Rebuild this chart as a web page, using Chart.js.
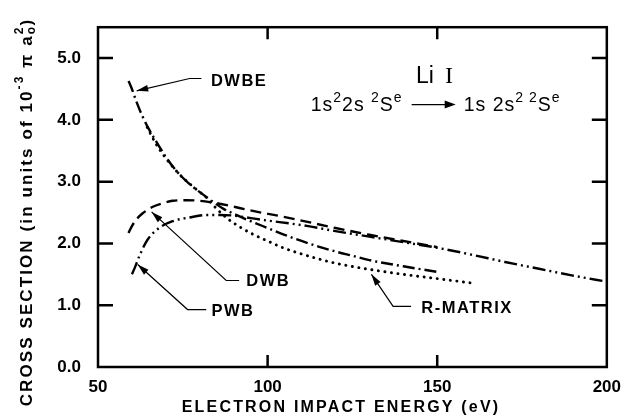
<!DOCTYPE html>
<html>
<head>
<meta charset="utf-8">
<script src="https://cdn.jsdelivr.net/npm/chart.js@4.4.1/dist/chart.umd.min.js"></script>
<style>
  html, body { margin: 0; padding: 0; background: #fff; }
  #wrap { width: 631px; height: 416px; position: relative; }
</style>
</head>
<body>
<div id="wrap"><canvas id="cs"></canvas></div>
<script>
// energia (eV) e seção de choque (10^-3 pi a0^2)
const dwbeE = [59, 60, 61.5, 63, 65, 67.5, 70, 73, 77, 81, 84, 87, 90, 95, 100, 105, 110, 115, 120, 125, 130, 140, 150];
const dwbeQ = [4.63, 4.50, 4.27, 4.07, 3.85, 3.62, 3.40, 3.18, 2.96, 2.79, 2.67, 2.56, 2.48, 2.36, 2.25, 2.14, 2.04, 1.95, 1.87, 1.80, 1.73, 1.63, 1.54];

const dwbE = [59, 60, 61.5, 63, 66, 69, 72, 76, 80, 84, 88, 92, 97, 103, 110, 120, 130, 140, 150];
const dwbQ = [2.17, 2.28, 2.40, 2.48, 2.59, 2.65, 2.69, 2.70, 2.69, 2.66, 2.62, 2.57, 2.51, 2.45, 2.37, 2.25, 2.14, 2.04, 1.94];

const pwbE = [60, 60.8, 62.3, 64.6, 68, 72, 77, 82, 86, 90, 95, 100, 107, 112, 120, 130, 140, 150, 160, 170, 180, 190, 200];
const pwbQ = [1.50, 1.60, 1.81, 2.06, 2.25, 2.36, 2.42, 2.46, 2.46, 2.45, 2.41, 2.37, 2.32, 2.28, 2.20, 2.11, 2.02, 1.93, 1.82, 1.70, 1.59, 1.48, 1.38];

const rmatE = [64.5, 67, 70, 74, 78, 82, 85, 88, 92, 96, 100, 105, 110, 115, 120, 130, 140, 150, 160];
const rmatQ = [3.88, 3.62, 3.38, 3.12, 2.92, 2.74, 2.56, 2.41, 2.26, 2.14, 2.04, 1.92, 1.83, 1.75, 1.68, 1.58, 1.50, 1.43, 1.36];

const xTicks = [50, 100, 150, 200];
const yTicks = [0, 1, 2, 3, 4, 5];

const FONT = '"Liberation Sans", Arial, sans-serif';

function pares(xs, ys) { return xs.map((v, i) => ({ x: v, y: ys[i] })); }

function serie(label, xs, ys, dash, cap, largura) {
    return {
        label: label,
        data: pares(xs, ys),
        borderColor: '#000',
        borderWidth: largura || 2.4,
        borderDash: dash,
        borderCapStyle: cap || 'butt',
        pointRadius: 0,
        fill: false,
        cubicInterpolationMode: 'monotone'
    };
}

// texto com sobrescrito/subscrito: [texto, tipo, naoAvanca]  tipo 0 normal, 1 sup, -1 sub
function rico(ctx, x, y, segs, size, weight, spacing, align) {
    const fonte = k => `${weight} ${k ? Math.round(size * 0.72) : size}px ${FONT}`;
    ctx.letterSpacing = spacing + 'px';
    let w = 0;
    segs.forEach(([t, k, na]) => { ctx.font = fonte(k); if (!na) w += ctx.measureText(t).width; });
    let cx = align === 'center' ? x - w / 2 : x;
    segs.forEach(([t, k, na]) => {
        ctx.font = fonte(k);
        const dy = k === 1 ? -size * 0.45 : k === -1 ? size * 0.28 : 0;
        ctx.fillText(t, cx, y + dy);
        if (!na) cx += ctx.measureText(t).width;
    });
    ctx.letterSpacing = '0px';
    return w;
}

function seta(ctx, pts) {
    ctx.lineWidth = 1.2;
    ctx.beginPath();
    ctx.moveTo(pts[0][0], pts[0][1]);
    pts.slice(1).forEach(p => ctx.lineTo(p[0], p[1]));
    ctx.stroke();
    const [a, b] = [pts[pts.length - 2], pts[pts.length - 1]];
    const ang = Math.atan2(b[1] - a[1], b[0] - a[0]);
    ctx.beginPath();
    ctx.moveTo(b[0], b[1]);
    ctx.lineTo(b[0] - 12 * Math.cos(ang - 0.28), b[1] - 12 * Math.sin(ang - 0.28));
    ctx.lineTo(b[0] - 12 * Math.cos(ang + 0.28), b[1] - 12 * Math.sin(ang + 0.28));
    ctx.closePath();
    ctx.fill();
}

const decoracao = {
    id: 'decoracao',
    afterDraw(chart) {
        const { ctx, chartArea: a, scales: { x, y } } = chart;
        const px = v => x.getPixelForValue(v), py = v => y.getPixelForValue(v);
        const P = (e, q) => [px(e), py(q)];
        ctx.save();
        ctx.strokeStyle = '#000';
        ctx.fillStyle = '#000';

        // moldura e marcas para dentro
        ctx.lineWidth = 2.5;
        ctx.strokeRect(a.left, a.top, a.right - a.left, a.bottom - a.top);
        ctx.beginPath();
        y.ticks.forEach(t => {
            if (t.value === 0) return;
            const yy = py(t.value);
            ctx.moveTo(a.left, yy); ctx.lineTo(a.left + 15, yy);
            ctx.moveTo(a.right, yy); ctx.lineTo(a.right - 15, yy);
        });
        x.ticks.forEach(t => {
            if (t.value === 50 || t.value === 200) return;
            const xx = px(t.value);
            ctx.moveTo(xx, a.bottom); ctx.lineTo(xx, a.bottom - 12);
            ctx.moveTo(xx, a.top); ctx.lineTo(xx, a.top + 12);
        });
        ctx.stroke();

        // títulos dos eixos
        ctx.textBaseline = 'middle';
        rico(ctx, 341, 408, [['ELECTRON IMPACT ENERGY (eV)', 0]], 16, 'bold', 2.2, 'center');
        ctx.save();
        ctx.translate(27, 212);
        ctx.rotate(-Math.PI / 2);
        rico(ctx, 0, 0, [['CROSS SECTION (in units of 10', 0], ['-3', 1], [' \u03C0 a', 0], ['o', -1, true], ['2', 1], [')', 0]], 17, 'bold', 2.1, 'center');
        ctx.restore();

        // rótulos das curvas
        ctx.textBaseline = 'alphabetic';
        rico(ctx, ...P(91.6, 4.55), [['DWBE', 0]], 16.5, 'bold', 1.5, 'center');
        rico(ctx, ...P(100.2, 1.31), [['DWB', 0]], 16.5, 'bold', 1.5, 'center');
        rico(ctx, ...P(89.8, 0.82), [['PWB', 0]], 16.5, 'bold', 1.5, 'center');
        rico(ctx, ...P(158.8, 0.87), [['R-MATRIX', 0]], 16.5, 'bold', 1.5, 'center');

        seta(ctx, [P(80.5, 4.67), P(77.0, 4.67), P(61.4, 4.47)]);
        seta(ctx, [P(91.6, 1.40), P(87.8, 1.40), P(65.8, 2.51)]);
        seta(ctx, [P(81.9, 0.93), P(76.4, 0.93), P(61.7, 1.66)]);
        seta(ctx, [P(142.3, 0.98), P(137.0, 0.98), P(130.6, 1.50)]);

        // Li I e a transição
        ctx.textAlign = 'left';
        const [lx, ly] = P(150.2, 4.59);
        ctx.font = `23px ${FONT}`;
        ctx.fillText('Li', lx - 22, ly);
        ctx.font = `24px "Liberation Serif", serif`;
        ctx.fillText('I', lx + 7, ly);

        const [tx, ty] = P(112.7, 4.15);
        const w1 = rico(ctx, tx, ty, [['1s', 0], ['2', 1], ['2s ', 0], ['2', 1], ['S', 0], ['e', 1]], 19.5, 'normal', 1, 'left');
        const ax = tx + w1 + 9;
        ctx.lineWidth = 1.3;
        ctx.beginPath(); ctx.moveTo(ax, ty - 6); ctx.lineTo(ax + 36, ty - 6); ctx.stroke();
        ctx.beginPath(); ctx.moveTo(ax + 44, ty - 6); ctx.lineTo(ax + 33, ty - 10); ctx.lineTo(ax + 33, ty - 2); ctx.closePath(); ctx.fill();
        rico(ctx, ax + 52, ty, [['1s 2s', 0], ['2 2', 1], ['S', 0], ['e', 1]], 19.5, 'normal', 1, 'left');

        ctx.restore();
    }
};

new Chart(document.getElementById('cs'), {
    type: 'line',
    data: {
        datasets: [
            serie('DWBE', dwbeE, dwbeQ, [12, 4, 2, 4]),
            serie('DWB', dwbE, dwbQ, [11, 6]),
            serie('PWB', pwbE, pwbQ, [13, 4, 2, 4, 2, 4]),
            serie('R-MATRIX', rmatE, rmatQ, [0.1, 6.5], 'round', 2.9)
        ]
    },
    options: {
        responsive: true,
        maintainAspectRatio: false,
        animation: false,
        devicePixelRatio: 1,
        layout: { padding: { top: 13, right: 21, left: 0, bottom: 0 } },
        plugins: { legend: { display: false }, tooltip: { enabled: false } },
        scales: {
            x: {
                type: 'linear', min: 50, max: 200,
                afterBuildTicks: s => { s.ticks = xTicks.map(v => ({ value: v })); },
                afterFit: s => { s.height = 49; },
                ticks: { color: '#000', padding: 10, maxRotation: 0, font: { family: FONT, size: 17, weight: 'bold' } },
                grid: { display: false, drawTicks: false },
                border: { display: false }
            },
            y: {
                type: 'linear', min: 0, max: 5.5,
                afterBuildTicks: s => { s.ticks = yTicks.map(v => ({ value: v })); },
                afterFit: s => { s.width = 98; },
                ticks: { color: '#000', padding: 17, callback: v => v.toFixed(1), font: { family: FONT, size: 17, weight: 'bold' } },
                grid: { display: false, drawTicks: false },
                border: { display: false }
            }
        }
    },
    plugins: [decoracao]
});
</script>
</body>
</html>
